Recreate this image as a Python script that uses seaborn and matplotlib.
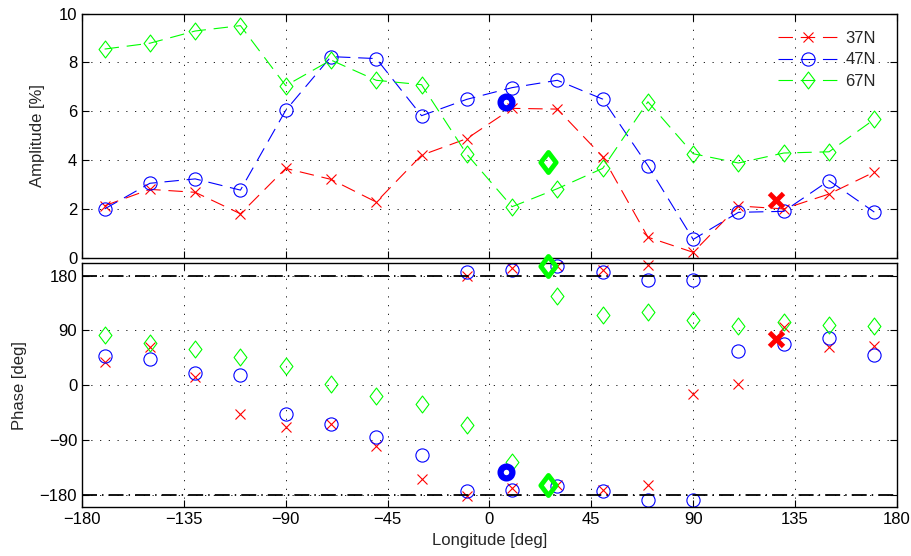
import numpy as np
import pandas as pd
import matplotlib
matplotlib.use("Agg")
import matplotlib.pyplot as plt
from matplotlib.path import Path
import seaborn as sns

# Longitudes (deg) of the stations
lon = [-170, -150, -130, -110, -90, -70, -50, -30, -10,
       10, 30, 50, 70, 90, 110, 130, 150, 170]

# Amplitude [%]
amp_37 = [2.13, 2.80, 2.68, 1.80, 3.66, 3.21, 2.28, 4.20, 4.88,
          6.12, 6.09, 4.14, 0.84, 0.22, 2.12, 2.00, 2.61, 3.51]
amp_47 = [2.00, 3.05, 3.23, 2.77, 6.04, 8.24, 8.16, 5.82, 6.49,
          6.97, 7.27, 6.50, 3.77, 0.75, 1.86, 1.90, 3.16, 1.87]
amp_67 = [8.55, 8.79, 9.29, 9.51, 7.05, 8.10, 7.27, 7.09, 4.24,
          2.09, 2.83, 3.66, 6.39, 4.26, 3.88, 4.29, 4.34, 5.67]

# Phase [deg]
pha_37 = [38, 62, 13, -47, -69, -64, -100, -154, 179,
          -168, -164, -171, -163, -15, 2, 96, 62, 65]
pha_47 = [48, 43, 20, 17, -47, -64, -85, -114, -174,
          -171, -165, -174, 172, 172, 57, 67, 78, 50]
pha_67 = [82, 69, 60, 47, 32, 2, -17, -31, -65,
          -125, 146, 116, 120, 107, 98, 103, 99, 98]

# highlighted points (one per latitude)
names = ["37N", "47N", "67N"]
hl_lon = [126.6, 7.1, 25.8]
hl_amp = [2.36, 6.37, 3.92]
hl_pha = [76, -142, -164]

colors = ["#ff0000", "#0000ff", "#00ff00"]
diamond = Path([(0, 1), (0.76, 0), (0, -1), (-0.76, 0), (0, 1)], closed=True)
markers = ["x", "o", diamond]
msizes = [7.5, 9.5, 12.2]
hl_ms = [10, 8.5, 14.5]
hl_mew = [3.5, 4.5, 3.5]

amps = [amp_37, amp_47, amp_67]
phas = [pha_37, pha_47, pha_67]


def wrap(lons, phases):
    # phases near +-180 are shown on both sides
    xs, ys = [], []
    for x, p in zip(lons, phases):
        for k in (-360, 0, 360):
            if -200 <= p + k <= 200:
                xs.append(x)
                ys.append(p + k)
    return pd.DataFrame({"lon": xs, "phase": ys})


sns.set_style("ticks")
plt.rcParams["font.family"] = ["Liberation Sans", "DejaVu Sans"]
plt.rcParams["font.size"] = 12

fig = plt.figure(figsize=(9.12, 5.56), dpi=100)
ax1 = fig.add_axes([0.0899, 0.5365, 0.8936, 0.4389])
ax2 = fig.add_axes([0.0899, 0.0876, 0.8936, 0.4388], sharex=ax1)

# amplitude panel
for i, name in enumerate(names):
    df = pd.DataFrame({"lon": lon, "amp": amps[i]})
    sns.lineplot(data=df, x="lon", y="amp", ax=ax1, color=colors[i],
                 estimator=None, sort=False, label=name,
                 linestyle=(0, (13, 7)), linewidth=0.8,
                 marker=markers[i], markersize=msizes[i],
                 markerfacecolor="none", markeredgecolor=colors[i],
                 markeredgewidth=0.8, clip_on=False)
for i, name in enumerate(names):
    sns.lineplot(x=[hl_lon[i]], y=[hl_amp[i]], ax=ax1, color=colors[i],
                 estimator=None, linestyle="none",
                 marker=markers[i], markersize=hl_ms[i],
                 markerfacecolor="none", markeredgecolor=colors[i],
                 markeredgewidth=hl_mew[i], zorder=5, clip_on=False)

# phase panel
for i, name in enumerate(names):
    df = wrap(lon, phas[i])
    sns.lineplot(data=df, x="lon", y="phase", ax=ax2, color=colors[i],
                 estimator=None, sort=False, linestyle="none",
                 marker=markers[i], markersize=msizes[i],
                 markerfacecolor="none", markeredgecolor=colors[i],
                 markeredgewidth=0.8, clip_on=False)
for i, name in enumerate(names):
    df = wrap([hl_lon[i]], [hl_pha[i]])
    sns.lineplot(data=df, x="lon", y="phase", ax=ax2, color=colors[i],
                 estimator=None, sort=False, linestyle="none",
                 marker=markers[i], markersize=hl_ms[i],
                 markerfacecolor="none", markeredgecolor=colors[i],
                 markeredgewidth=hl_mew[i], zorder=5, clip_on=False)

for y in (180, -180):
    ax2.axhline(y, color="k", linewidth=1.3, linestyle=(0, (8.3, 2.8, 0.8, 2.8)))

ax1.set_xlim(-180, 180)
ax1.set_ylim(0, 10)
ax1.set_yticks(np.arange(0, 11, 2))
ax2.set_ylim(-200, 200)
ax2.set_yticks([-180, -90, 0, 90, 180])
ax2.set_xticks(np.arange(-180, 181, 45))

ax1.set_xlabel("")
ax1.set_ylabel("Amplitude [%]")
ax2.set_ylabel("Phase [deg]")
ax2.set_xlabel("Longitude [deg]")

for ax in (ax1, ax2):
    ax.grid(True, color="k", linewidth=0.6, linestyle=(0, (1.5, 9)))
    ax.set_axisbelow(True)
    ax.tick_params(direction="in", top=True, right=True, length=5,
                   width=0.8, colors="k", labelsize=12)
    for s in ax.spines.values():
        s.set_visible(True)
        s.set_linewidth(1.0)
        s.set_color("k")
ax1.tick_params(labelbottom=False)
ax1.yaxis.set_label_coords(-0.0454, 0.5)
ax2.yaxis.set_label_coords(-0.0675, 0.5)

ax1.legend(loc="upper right", bbox_to_anchor=(0.974, 0.93), frameon=False,
           numpoints=1, handlelength=3.6, handletextpad=0.45,
           labelspacing=0.4, borderpad=0, borderaxespad=0, fontsize=12)

fig.savefig("out.png", dpi=100)
